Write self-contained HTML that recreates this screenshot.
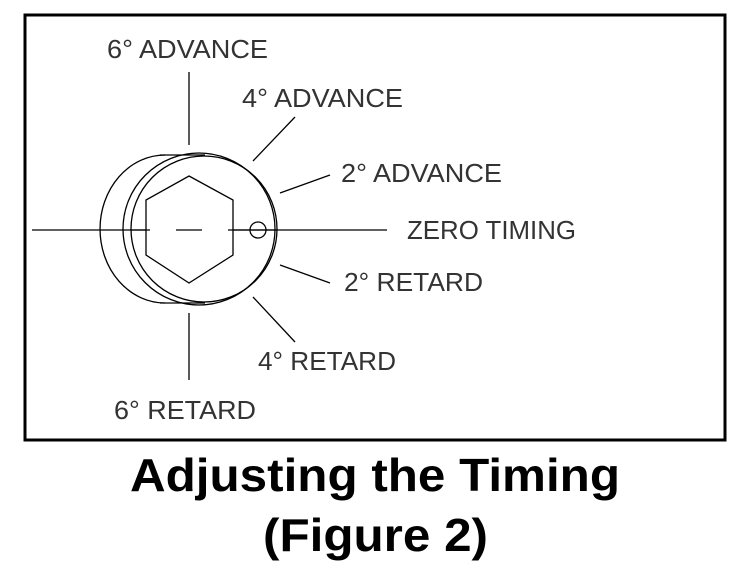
<!DOCTYPE html>
<html><head><meta charset="utf-8"><style>
html,body{margin:0;padding:0;background:#fff;}
svg{display:block;}
</style></head><body>
<svg width="750" height="581" viewBox="0 0 750 581" xmlns="http://www.w3.org/2000/svg">
<rect x="25" y="15" width="700" height="425" fill="none" stroke="#000" stroke-width="3"/>
<g fill="none" stroke="#000" stroke-width="1.3">
<line x1="32" y1="230" x2="387" y2="230"/>
<line x1="189" y1="72" x2="189" y2="145"/>
<line x1="189" y1="313" x2="189" y2="380"/>
<path d="M165 155 A65 74 0 0 0 165 303"/>
<line x1="160" y1="155" x2="205" y2="155"/>
<line x1="160" y1="303" x2="205" y2="303"/>
<circle cx="204" cy="229" r="73"/>
<circle cx="199" cy="229" r="76"/>
<polygon points="189,176 233,200 233,255 189,283 146,255 146,200" fill="#fff"/>
<line x1="130" y1="230" x2="150" y2="230"/>
<line x1="176" y1="230" x2="202" y2="230"/>
<line x1="228" y1="230" x2="277" y2="230"/>
<circle cx="258" cy="230" r="8"/>
<line x1="253" y1="161" x2="295" y2="117"/>
<line x1="280" y1="193" x2="330" y2="175"/>
<line x1="280" y1="265" x2="330" y2="283"/>
<line x1="253" y1="297" x2="295" y2="342"/>
</g>
<g font-family="Liberation Sans, sans-serif" font-size="26" fill="#333">
<text x="107" y="58" textLength="161" lengthAdjust="spacingAndGlyphs">6° ADVANCE</text>
<text x="242" y="107" textLength="161" lengthAdjust="spacingAndGlyphs">4° ADVANCE</text>
<text x="341" y="182" textLength="161" lengthAdjust="spacingAndGlyphs">2° ADVANCE</text>
<text x="407" y="239" textLength="169" lengthAdjust="spacingAndGlyphs">ZERO TIMING</text>
<text x="344" y="291" textLength="139" lengthAdjust="spacingAndGlyphs">2° RETARD</text>
<text x="258" y="370" textLength="138" lengthAdjust="spacingAndGlyphs">4° RETARD</text>
<text x="114" y="419" textLength="142" lengthAdjust="spacingAndGlyphs">6° RETARD</text>
</g>
<g font-family="Liberation Sans, sans-serif" font-size="46" font-weight="bold" fill="#000">
<text x="130" y="491" textLength="490" lengthAdjust="spacingAndGlyphs">Adjusting the Timing</text>
<text x="263" y="551" textLength="225" lengthAdjust="spacingAndGlyphs">(Figure 2)</text>
</g>
</svg>
</body></html>
